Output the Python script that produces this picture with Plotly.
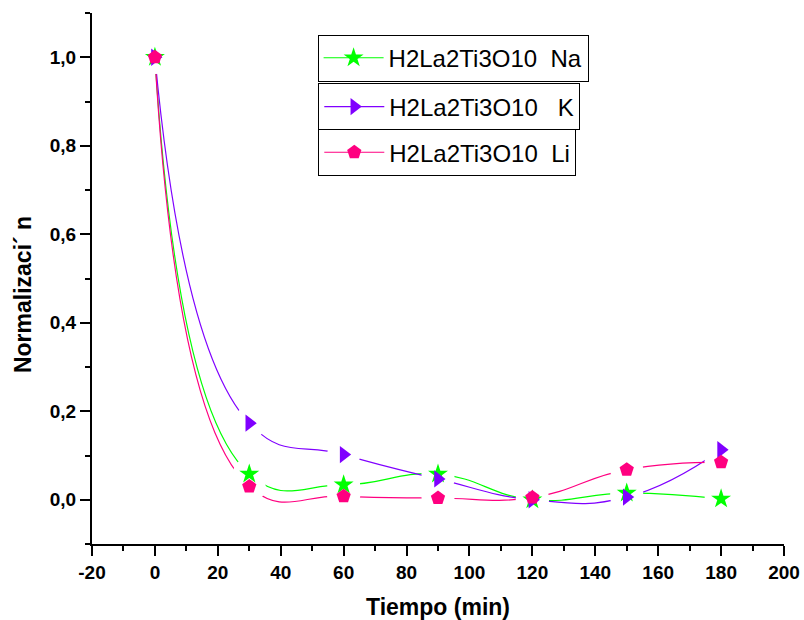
import plotly.graph_objects as go

# Sampling times (min)
tiempo = [0, 30, 60, 90, 120, 150, 180]

# Normalised values for each sample
na_vals = [1.0, 0.058, 0.034, 0.058, 0.0, 0.015, 0.002]
k_vals = [1.0, 0.173, 0.102, 0.047, 0.0, 0.006, 0.113]
li_vals = [1.0, 0.030, 0.008, 0.004, 0.005, 0.068, 0.085]

NB = "\u00a0"
series_names = ["H2La2Ti3O10" + NB * 2 + "Na", "H2La2Ti3O10" + NB * 3 + "K", "H2La2Ti3O10" + NB * 2 + "Li"]
series_vals = [na_vals, k_vals, li_vals]
colors = ["#00ff00", "#8000ff", "#ff0080"]
symbols = ["star", "triangle-right", "pentagon"]
legends = ["legend", "legend2", "legend3"]

x_ticks = list(range(-20, 201, 20))
y_ticks = [0.0, 0.2, 0.4, 0.6, 0.8, 1.0]
X_RANGE = [-20, 200]
Y_RANGE = [-0.1, 1.1]

FONT = "Liberation Sans, Arial, sans-serif"

fig = go.Figure()

# smooth connecting curves on the base axes
for vals, col in zip(series_vals, colors):
    fig.add_trace(go.Scatter(
        x=tiempo, y=vals, mode="lines",
        line=dict(color=col, width=1.2, shape="spline", smoothing=1.3),
        showlegend=False))

# white halos on the overlaid axes leave a gap in the curves around each symbol
for vals in series_vals:
    fig.add_trace(go.Scatter(
        x=tiempo, y=vals, mode="markers", xaxis="x2", yaxis="y2",
        marker=dict(symbol="circle", size=33, color="white", line=dict(width=0)),
        showlegend=False))

# symbols
for vals, col, sym in zip(series_vals, colors, symbols):
    fig.add_trace(go.Scatter(
        x=tiempo, y=vals, mode="markers", xaxis="x2", yaxis="y2",
        marker=dict(symbol=sym, size=15, color=col, line=dict(width=0)),
        showlegend=False))

# legend entries, one boxed legend per series
for name, col, sym, lg in zip(series_names, colors, symbols, legends):
    fig.add_trace(go.Scatter(
        x=[None], y=[None], mode="lines+markers", name=name, legend=lg,
        line=dict(color=col, width=1.2),
        marker=dict(symbol=sym, size=15, color=col, line=dict(width=0))))

legend_style = dict(
    bgcolor="white", bordercolor="black", borderwidth=1,
    font=dict(family=FONT, size=24, color="black"),
    xanchor="left", yanchor="middle", itemwidth=60)

fig.update_layout(
    width=804, height=620,
    margin=dict(l=92, r=20, t=13, b=76),
    plot_bgcolor="white", paper_bgcolor="white",
    font=dict(family=FONT, color="black"),
    legend=dict(x=0.326, y=0.915, **legend_style),
    legend2=dict(x=0.327, y=0.823, **legend_style),
    legend3=dict(x=0.327, y=0.737, **legend_style),
    xaxis=dict(
        range=X_RANGE, tickmode="array", tickvals=x_ticks,
        ticktext=[str(v) for v in x_ticks], automargin=False,
        showgrid=False, zeroline=False, showline=True, linecolor="black", linewidth=2,
        ticks="outside", ticklen=10, tickwidth=2, tickcolor="black",
        minor=dict(ticks="outside", ticklen=5, tickwidth=2, tickcolor="black", dtick=10, showgrid=False),
        tickfont=dict(size=19, family=FONT, weight="bold"),
        title=dict(text="<b>Tiempo (min)</b>", font=dict(size=23), standoff=21)),
    yaxis=dict(
        range=Y_RANGE, tickmode="array", tickvals=y_ticks,
        ticktext=[f"{v:.1f}".replace(".", ",") for v in y_ticks], automargin=False,
        showgrid=False, zeroline=False, showline=True, linecolor="black", linewidth=2,
        ticks="outside", ticklen=10, tickwidth=2, tickcolor="black",
        minor=dict(ticks="outside", ticklen=5, tickwidth=2, tickcolor="black",
                   tickvals=[-0.1, 0.1, 0.3, 0.5, 0.7, 0.9, 1.1], showgrid=False),
        tickfont=dict(size=19, family=FONT, weight="bold"),
        title=dict(text="<b>Normalizaci\u00b4 n" + NB * 5 + "</b>", font=dict(size=23), standoff=12)),
    xaxis2=dict(range=X_RANGE, overlaying="x", visible=False, automargin=False),
    yaxis2=dict(range=Y_RANGE, overlaying="y", visible=False, automargin=False),
)

fig.write_html("out.html")
